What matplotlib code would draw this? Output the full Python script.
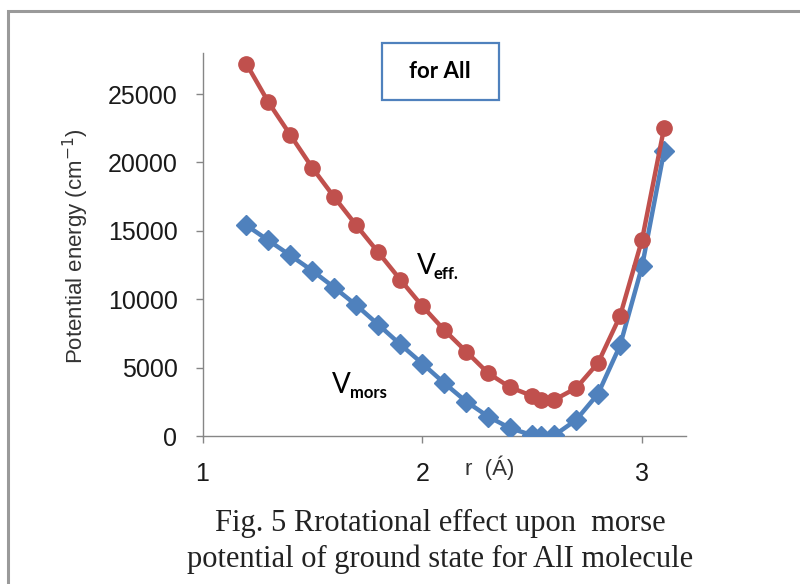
import matplotlib
matplotlib.use("Agg")
import matplotlib.pyplot as plt
from matplotlib.patches import Rectangle

# data
r = [1.2, 1.3, 1.4, 1.5, 1.6, 1.7, 1.8, 1.9, 2.0, 2.1, 2.2, 2.3, 2.4,
     2.5, 2.54, 2.6, 2.7, 2.8, 2.9, 3.0, 3.1]
v_eff = [27200, 24400, 22000, 19600, 17450, 15400, 13420, 11430, 9500,
         7750, 6170, 4590, 3560, 2930, 2650, 2640, 3500, 5350, 8770,
         14350, 22500]
v_mors = [15400, 14300, 13200, 12080, 10850, 9560, 8140, 6700, 5300,
          3870, 2520, 1420, 570, 60, 0, 40, 1170, 3090, 6620, 12400, 20800]
x_ticks = [1, 2, 3]
y_ticks = [0, 5000, 10000, 15000, 20000, 25000]

RED = "#C0504D"
BLUE = "#4F81BD"
AXIS = "#868686"

W, H = 800, 584
fig = plt.figure(figsize=(W / 100, H / 100), dpi=100)


def px(x, y):
    return x / W, 1 - y / H


# axes placed in pixel terms
x0, x1, y0, y1 = 202.5, 686, 436, 53
ax = fig.add_axes([x0 / W, 1 - y0 / H, (x1 - x0) / W, (y0 - y1) / H])

ax.plot(r, v_mors, color=BLUE, lw=3.2, marker="D", ms=10, zorder=3)
ax.plot(r, v_eff, color=RED, lw=3.2, marker="o", ms=11, zorder=4)

ax.set_xlim(1, 3.2)
ax.set_ylim(0, 28000)
ax.set_xticks(x_ticks)
ax.set_yticks(y_ticks)
ax.set_xticklabels([str(t) for t in x_ticks])
ax.set_yticklabels([str(t) for t in y_ticks])

for s in ["top", "right"]:
    ax.spines[s].set_visible(False)
for s in ["left", "bottom"]:
    ax.spines[s].set_color(AXIS)
    ax.spines[s].set_linewidth(1.0)
    ax.spines[s].set_clip_on(False)

ax.tick_params(axis="both", direction="out", length=5, width=1, color=AXIS,
               labelsize=18, labelcolor="#1a1a1a")
ax.tick_params(axis="y", pad=13)
ax.tick_params(axis="x", pad=14)
for lab in ax.get_xticklabels() + ax.get_yticklabels():
    lab.set_family("Liberation Sans")

fig.text(*px(76, 246), "Potential energy (cm$^{-1}$)", rotation=90,
         ha="center", va="center", fontsize=16, family="Liberation Sans",
         color="#333333")
fig.text(*px(490, 468), "r  (Á)", ha="center", va="center", fontsize=16,
         family="Liberation Sans", color="#333333")

# title box
fig.add_artist(Rectangle(px(382, 100), 117 / W, 57 / H, fill=False,
                         edgecolor=BLUE, lw=1.6, transform=fig.transFigure))
fig.text(*px(440, 72), "for AlI", ha="center", va="center", fontsize=16,
         family="Lato", weight="bold", color="black")

# curve labels
fig.text(*px(417, 274), "V", ha="left", va="baseline", fontsize=20,
         family="Lato", color="black")
fig.text(*px(434, 279), "eff.", ha="left", va="baseline", fontsize=12,
         family="Lato", weight="bold", color="black")
fig.text(*px(332, 393), "V", ha="left", va="baseline", fontsize=20,
         family="Lato", color="black")
fig.text(*px(350, 398), "mors", ha="left", va="baseline", fontsize=12,
         family="Lato", weight="bold", color="black")

# caption
fig.text(*px(440, 523), "Fig. 5 Rrotational effect upon  morse",
         ha="center", va="center", fontsize=22, family="Liberation Serif",
         color="#222222")
fig.text(*px(440, 559), "potential of ground state for AlI molecule",
         ha="center", va="center", fontsize=22, family="Liberation Serif",
         color="#222222")

# outer frame, cut by the right and bottom edges
fig.add_artist(Rectangle(px(8, 640), 1.2, (640 - 11) / H, fill=False,
                         edgecolor="#9a9a9a", lw=2.2,
                         transform=fig.transFigure, clip_on=False))

fig.savefig("out.png", dpi=100)
